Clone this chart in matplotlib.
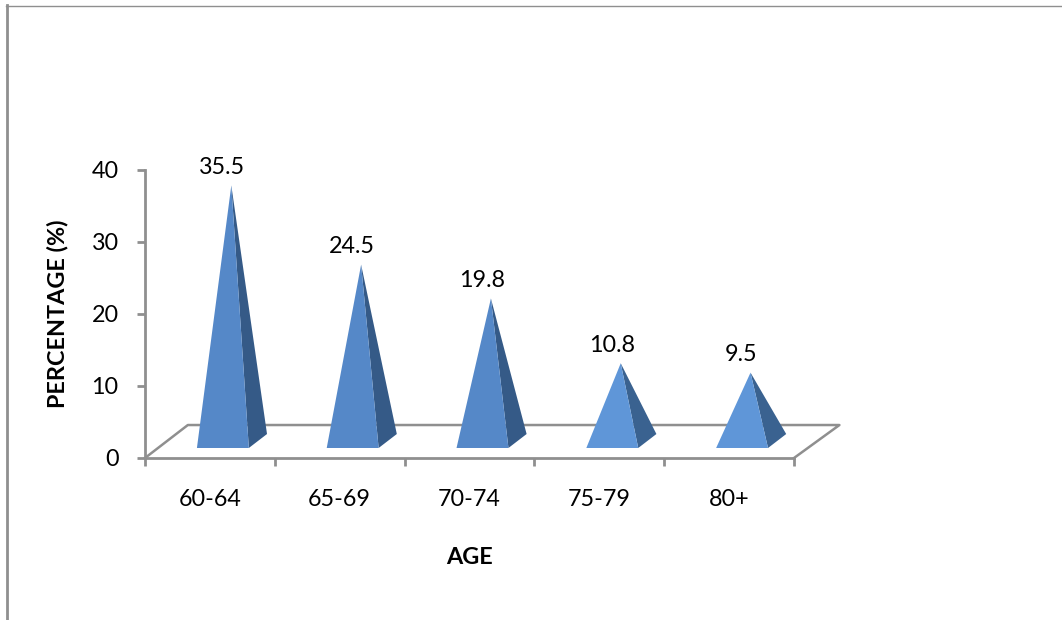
import matplotlib
matplotlib.use("Agg")
import matplotlib.pyplot as plt
from matplotlib.lines import Line2D
from matplotlib.patches import Polygon

age_groups = ["60-64", "65-69", "70-74", "75-79", "80+"]
percentages = [35.5, 24.5, 19.8, 10.8, 9.5]
y_ticks = [0, 10, 20, 30, 40]

GREY = "#8f8f8f"
W, H = 1062, 620

plt.rcParams["font.family"] = ["Lato", "DejaVu Sans"]

fig = plt.figure(figsize=(W / 100, H / 100), dpi=100)
ax = fig.add_axes([145 / W, (H - 458) / H, 649 / W, 288 / H])
ax.set_xlim(0, len(age_groups))
ax.set_ylim(0, 40)

# floor of the 3D plot, sheared back and to the right
n = len(age_groups)
floor_x = [0, 0.33, n + 0.35, n]
floor_y = [0, 4.58, 4.58, 0]
ax.plot(floor_x, floor_y, color=GREY, lw=1.8, clip_on=False, zorder=1)

# pyramids: front face plus darker right face
for i, v in enumerate(percentages):
    short = v < 15
    front = "#5f96d8" if short else "#5588c8"
    side = "#3a6290" if short else "#355a87"
    left, right = i + 0.40, i + 0.80
    corner = i + 0.94
    apex = (i + 0.665, v + 2.36)
    ax.add_patch(Polygon([(left, 1.39), (right, 1.39), apex], closed=True,
                         fc=front, ec="none", clip_on=False, zorder=3))
    ax.add_patch(Polygon([(right, 1.39), (corner, 3.33), apex], closed=True,
                         fc=side, ec="none", clip_on=False, zorder=2))
    ax.annotate(f"{v}", xy=apex, xytext=(-6.5, 13), textcoords="offset points",
                ha="center", va="center", fontsize=16.8, color="black",
                annotation_clip=False, zorder=4)

for name in ("top", "right"):
    ax.spines[name].set_visible(False)
for name in ("left", "bottom"):
    ax.spines[name].set_color(GREY)
    ax.spines[name].set_linewidth(2.0)

ax.set_yticks(y_ticks)
ax.set_xticks(range(n + 1))
ax.set_xticklabels([])
ax.set_xticks([i + 0.5 for i in range(n)], labels=age_groups, minor=True)
ax.tick_params(axis="both", which="major", color=GREY, width=2.0, length=6,
               labelsize=16.8)
ax.tick_params(axis="y", which="major", pad=13)
ax.tick_params(axis="x", which="minor", length=0, labelsize=16.8, pad=22.5)

fig.text(57.5 / W, 1 - 314 / H, "PERCENTAGE (%)", rotation=90, ha="center", va="center",
         fontsize=16.8, fontweight="bold")
fig.text(469 / W, 1 - 558 / H, "AGE", ha="center", va="center",
         fontsize=16.8, fontweight="bold")

# outer frame, only the top and left edges are drawn
fig.add_artist(Line2D([6 / W, 1], [1 - 6 / H, 1 - 6 / H], color=GREY, lw=1.0))
fig.add_artist(Line2D([7 / W, 7 / W], [1 - 5 / H, 0], color=GREY, lw=2.0))

fig.savefig("out.png", dpi=100)
plt.close(fig)
